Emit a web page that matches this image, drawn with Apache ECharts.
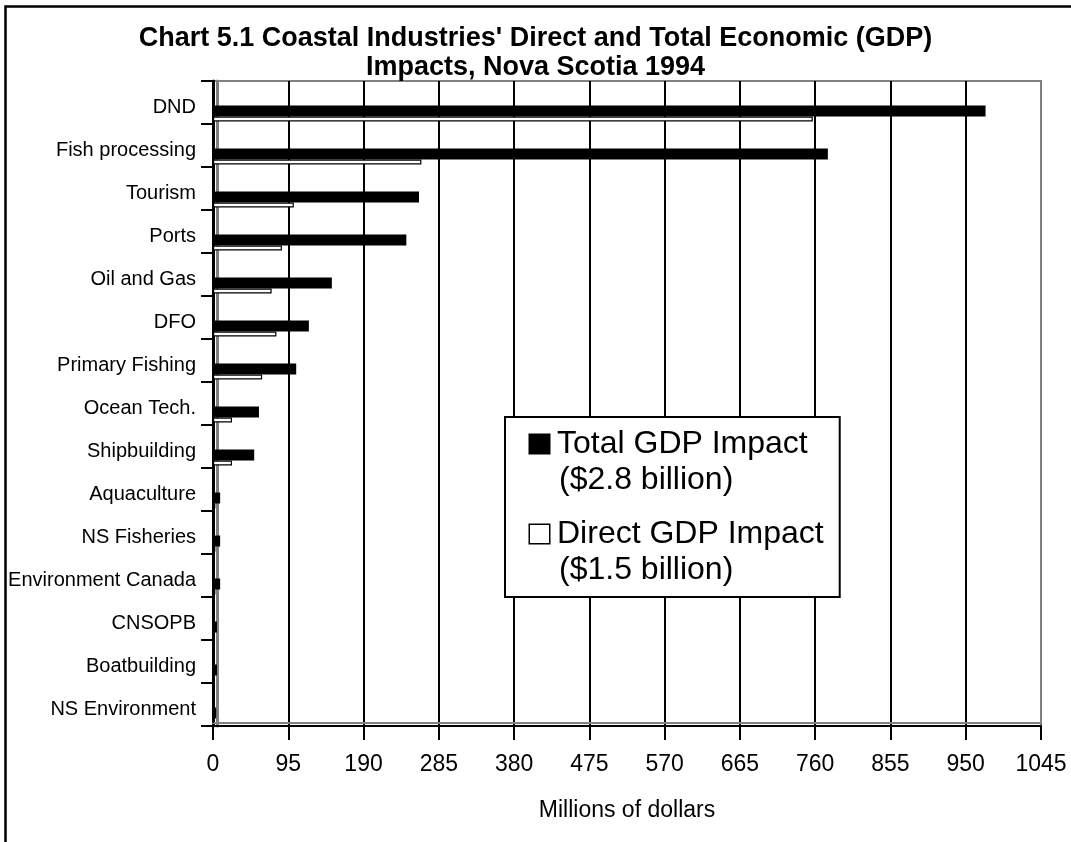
<!DOCTYPE html>
<html>
<head>
<meta charset="utf-8">
<script src="https://cdn.jsdelivr.net/npm/echarts@6/dist/echarts.min.js"></script>
<style>
  html, body { margin: 0; padding: 0; background: #fff; }
  #chart { width: 1071px; height: 842px; }
</style>
</head>
<body>
<div id="chart"></div>
<script>
const categories = [
    'DND', 'Fish processing', 'Tourism', 'Ports', 'Oil and Gas', 'DFO',
    'Primary Fishing', 'Ocean Tech.', 'Shipbuilding', 'Aquaculture',
    'NS Fisheries', 'Environment Canada', 'CNSOPB', 'Boatbuilding', 'NS Environment',
];
const totalImpact = [975, 776, 260, 244, 150, 121, 105, 58, 52, 9, 9, 9, 5, 5, 4];
const directImpact = [757, 263, 102, 87, 74, 80, 62, 24, 24, 3, 3, 3, 2, 2, 1];
const xTicks = { min: 0, max: 1045, interval: 95 };
const legendNotes = {
    'Total GDP Impact': '($2.8 billion)',
    'Direct GDP Impact': '($1.5 billion)',
};

const font = '"Liberation Sans", Arial, sans-serif';
const chart = echarts.init(document.getElementById('chart'));

const option = {
    backgroundColor: '#fff',
    animation: false,
    textStyle: { fontFamily: font, color: '#000' },
    title: {
        text: "Chart 5.1 Coastal Industries' Direct and Total Economic (GDP)\nImpacts, Nova Scotia 1994",
        left: 'center',
        top: 19,
        textStyle: {
            fontFamily: font,
            fontSize: 27,
            fontWeight: 'bold',
            lineHeight: 29,
            color: '#000',
        },
    },
    graphic: [
        {
            type: 'rect',
            shape: { x: 5.5, y: 6.5, width: 1200, height: 1000 },
            style: { fill: 'none', stroke: '#000', lineWidth: 2.5 },
            silent: true,
        },
    ],
    legend: {
        data: ['Total GDP Impact', 'Direct GDP Impact'],
        orient: 'vertical',
        left: 505,
        top: 417,
        itemWidth: 0,
        itemHeight: 0,
        itemGap: 18,
        padding: [9, 16, 9, 19],
        backgroundColor: '#fff',
        borderColor: '#000',
        borderWidth: 2,
        selectedMode: false,
        formatter: (name) => {
            const sq = name.startsWith('Total') ? 'sqFill' : 'sqOpen';
            return '{' + sq + '| }{gap| }{t|' + name + '}\n{pad| }{t|' + legendNotes[name] + '}';
        },
        textStyle: {
            fontFamily: font,
            fontSize: 32,
            lineHeight: 36,
            color: '#000',
            rich: {
                sqFill: { width: 19, height: 18, backgroundColor: '#000', borderColor: '#000', borderWidth: 1.5 },
                sqOpen: { width: 19, height: 18, backgroundColor: '#fff', borderColor: '#000', borderWidth: 1.5 },
                gap: { width: 8 },
                pad: { width: 29 },
                t: { fontFamily: font, fontSize: 32, lineHeight: 36, color: '#000' },
            },
        },
    },
    grid: {
        left: 213,
        right: 30,
        top: 81,
        bottom: 116,
        show: true,
        borderColor: '#808080',
        borderWidth: 2,
        backgroundColor: 'transparent',
    },
    xAxis: {
        type: 'value',
        min: xTicks.min,
        max: xTicks.max,
        interval: xTicks.interval,
        name: 'Millions of dollars',
        nameLocation: 'middle',
        nameGap: 73,
        nameTextStyle: { fontFamily: font, fontSize: 23, color: '#000' },
        axisLine: {
            show: true,
            lineStyle: { color: '#000', width: 2, shadowColor: '#808080', shadowOffsetY: -3, shadowBlur: 0 },
        },
        axisTick: { show: true, length: 14, lineStyle: { color: '#000', width: 2 } },
        axisLabel: {
            fontFamily: font,
            fontSize: 23,
            color: '#000',
            margin: 27,
            formatter: (v) => String(v),
        },
        splitLine: {
            show: true,
            showMinLine: false,
            showMaxLine: false,
            lineStyle: { color: '#000', width: 2 },
        },
    },
    yAxis: {
        type: 'category',
        data: categories,
        inverse: true,
        axisLine: {
            show: true,
            lineStyle: { color: '#000', width: 3, shadowColor: '#808080', shadowOffsetX: 4, shadowBlur: 0 },
        },
        axisTick: { show: true, length: 12, lineStyle: { color: '#000', width: 2 } },
        axisLabel: {
            fontFamily: font,
            fontSize: 20,
            color: '#000',
            margin: 17,
            verticalAlign: 'top',
            lineHeight: 10,
        },
        splitLine: { show: false },
    },
    series: [
        // empty spacer: pushes the pair of bars to the lower part of each band
        {
            name: 'spacer',
            type: 'bar',
            data: [],
            barWidth: 22,
            barGap: '0%',
            silent: true,
        },
        {
            name: 'Total GDP Impact',
            type: 'bar',
            data: totalImpact,
            barWidth: 11,
            barGap: '0%',
            itemStyle: { color: '#000' },
        },
        {
            name: 'Direct GDP Impact',
            type: 'bar',
            data: directImpact,
            barWidth: 5,
            barGap: '0%',
            itemStyle: { color: '#fff', borderColor: '#000', borderWidth: 1.2 },
        },
    ],
};

chart.setOption(option);
</script>
</body>
</html>
